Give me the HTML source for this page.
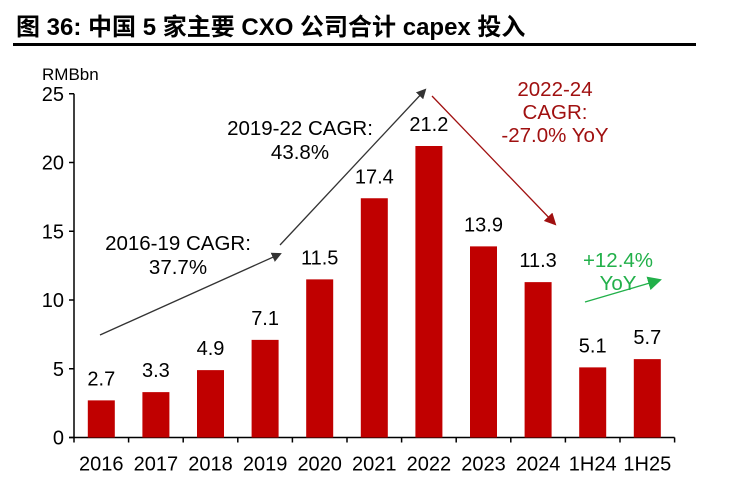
<!DOCTYPE html>
<html><head><meta charset="utf-8"><style>
body{margin:0;background:#fff;width:746px;height:495px;overflow:hidden}
svg text{font-family:"Liberation Sans","Noto Sans CJK SC",sans-serif}
</style></head><body>
<svg width="746" height="495">
<text x="16" y="35" font-size="24" font-weight="bold" fill="#000">图 36: 中国 5 家主要 CXO 公司合计 capex 投入</text>
<rect x="13" y="43" width="683" height="3" fill="#000"/>
<text x="42" y="80" font-size="17">RMBbn</text>
<g id="axes"></g><g id="bars"></g>
<defs>
<marker id="ab" markerWidth="10" markerHeight="10" refX="8" refY="5" orient="auto" markerUnits="userSpaceOnUse"><path d="M0,0L10,5L0,10z" fill="#333"/></marker>
<marker id="ar" markerWidth="12" markerHeight="12" refX="10" refY="6" orient="auto" markerUnits="userSpaceOnUse"><path d="M0,0L12,6L0,12z" fill="#a01010"/></marker>
<marker id="ag" markerWidth="14" markerHeight="14" refX="12" refY="7" orient="auto" markerUnits="userSpaceOnUse"><path d="M0,0L14,7L0,14z" fill="#22b04a"/></marker>
</defs>
<line x1="100" y1="335" x2="280" y2="254" stroke="#333" stroke-width="1.3" marker-end="url(#ab)"/>
<line x1="280" y1="245" x2="425" y2="90" stroke="#333" stroke-width="1.3" marker-end="url(#ab)"/>
<line x1="432" y1="96" x2="555" y2="224" stroke="#a01010" stroke-width="1.3" marker-end="url(#ar)"/>
<line x1="585" y1="302" x2="660" y2="280" stroke="#22b04a" stroke-width="1.3" marker-end="url(#ag)"/>
<g font-size="20.5" text-anchor="middle">
<text x="300" y="135">2019-22 CAGR:</text>
<text x="300" y="159">43.8%</text>
<text x="178" y="250">2016-19 CAGR:</text>
<text x="178" y="274">37.7%</text>
<text x="555" y="96" fill="#a01010">2022-24</text>
<text x="555" y="119" fill="#a01010">CAGR:</text>
<text x="555" y="142" fill="#a01010">-27.0% YoY</text>
<text x="618" y="267" fill="#22b04a">+12.4%</text>
<text x="618" y="290" fill="#22b04a">YoY</text>
</g>
</svg>
<script>
const categories=["2016","2017","2018","2019","2020","2021","2022","2023","2024","1H24","1H25"];
const values=[2.7,3.3,4.9,7.1,11.5,17.4,21.2,13.9,11.3,5.1,5.7];
const yTicks=[0,5,10,15,20,25];
const NS="http://www.w3.org/2000/svg";
const x0=74,step=54.6,y0=437.5,k=13.75;
const y=v=>y0-v*k;
const ax=document.getElementById('axes'),bg=document.getElementById('bars');
function mk(p,tag,at,txt){const e=document.createElementNS(NS,tag);for(const a in at)e.setAttribute(a,at[a]);if(txt!=null)e.textContent=txt;p.appendChild(e);return e;}
let e=mk(ax,'line',{x1:x0,y1:y(0),x2:x0,y2:y(25),stroke:'#000','stroke-width':1.5});


e=mk(ax,'line',{x1:x0-5,y1:y(0),x2:x0+step*categories.length,y2:y(0),stroke:'#000','stroke-width':1.5});


yTicks.forEach(t=>{
 mk(ax,'line',{x1:x0-5,y1:y(t),x2:x0,y2:y(t),stroke:'#000','stroke-width':1.5});
 const l=mk(ax,'text',{x:x0-10,y:y(t)+7,'font-size':20,'text-anchor':'end'},t);
 
 
});
for(let i=0;i<=categories.length;i++)mk(ax,'line',{x1:x0+i*step,y1:y(0),x2:x0+i*step,y2:y(0)+5,stroke:'#000','stroke-width':1.5});
categories.forEach((c,i)=>{
 const cx=x0+step*(i+0.5),v=values[i];
 const r=mk(bg,'rect',{x:cx-13.5,y:y(v),width:27,height:v*k,fill:'#c00000'});
 
 
 const t=mk(bg,'text',{x:cx,y:y(v)-15,'font-size':20,'text-anchor':'middle'},v.toFixed(1));
 
 
 const xl=mk(ax,'text',{x:cx,y:y(0)+33,'font-size':20,'text-anchor':'middle'},c);
 
 
});
</script>
</body></html>
